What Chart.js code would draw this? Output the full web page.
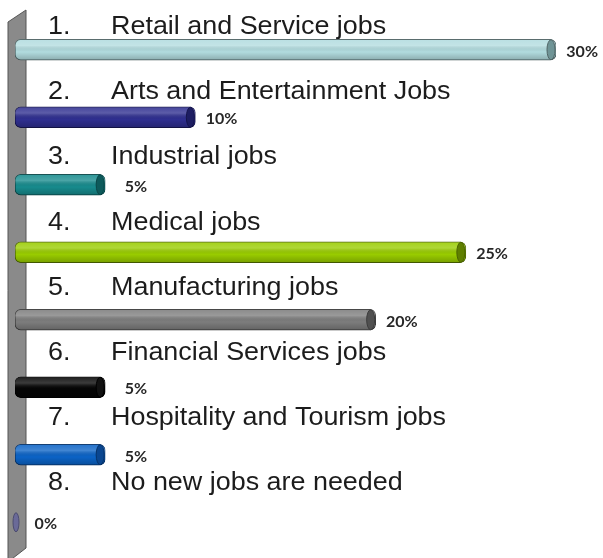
<!DOCTYPE html>
<html>
<head>
<meta charset="utf-8">
<script src="https://cdn.jsdelivr.net/npm/chart.js@4.4.1/dist/chart.umd.min.js"></script>
<style>
  html, body { margin: 0; padding: 0; background: #ffffff; }
  canvas { display: block; }
</style>
</head>
<body>
<canvas id="chart" width="603" height="558"></canvas>
<script>
// Survey answers: which kinds of new jobs are needed
const ranks = ["1.", "2.", "3.", "4.", "5.", "6.", "7.", "8."];
const categories = [
  "Retail and Service jobs",
  "Arts and Entertainment Jobs",
  "Industrial jobs",
  "Medical jobs",
  "Manufacturing jobs",
  "Financial Services jobs",
  "Hospitality and Tourism jobs",
  "No new jobs are needed"
];
const shares = [30, 10, 5, 25, 20, 5, 5, 0];
const valueLabels = ["30%", "10%", "5%", "25%", "20%", "5%", "5%", "0%"];

const bodyColors = ["#b2dcdf", "#2f2f90", "#178b8d", "#99cc00", "#7d7d7d", "#050505", "#0b63c6", "#8c8cb8"];
const edgeColors = ["#4f6465", "#15154d", "#0a4748", "#4a6300", "#3c3c3c", "#000000", "#06336a", "#4c4c70"];
const faceColors = ["#6f9496", "#1d1d62", "#0d5a5b", "#5f7f00", "#505050", "#111111", "#0a4690", "#6a6a98"];

// Thin grey side wall the bars grow out of
const wallPlugin = {
  id: "wall",
  beforeDatasetsDraw(chart) {
    const ctx = chart.ctx;
    ctx.save();
    ctx.beginPath();
    ctx.moveTo(8, 22);
    ctx.lineTo(26, 10);
    ctx.lineTo(26, 548);
    ctx.lineTo(8, 562);
    ctx.closePath();
    ctx.fillStyle = "#8a8a8a";
    ctx.fill();
    ctx.lineWidth = 1;
    ctx.strokeStyle = "#555555";
    ctx.stroke();
    ctx.restore();
  }
};

// Shading and the end face that give each bar its cylinder look
const cylinderPlugin = {
  id: "cylinder",
  afterDatasetsDraw(chart) {
    const ctx = chart.ctx;
    const meta = chart.getDatasetMeta(0);
    meta.data.forEach((bar, i) => {
      const p = bar.getProps(["x", "y", "base", "height"], true);
      const h = p.height, top = p.y - h / 2, rx = 4, ry = h / 2;
      ctx.save();
      if (p.x - p.base > 1) {
        // soft highlight on the upper half, shadow on the lower half
        ctx.beginPath();
        ctx.roundRect(p.base, top, p.x - p.base, h, 6);
        ctx.clip();
        const g = ctx.createLinearGradient(0, top, 0, top + h);
        g.addColorStop(0, "rgba(255,255,255,0.10)");
        g.addColorStop(0.3, "rgba(255,255,255,0.22)");
        g.addColorStop(0.6, "rgba(0,0,0,0)");
        g.addColorStop(1, "rgba(0,0,0,0.22)");
        ctx.fillStyle = g;
        ctx.fillRect(p.base, top, p.x - p.base, h);
        ctx.restore();
        ctx.save();
        ctx.beginPath();
        ctx.ellipse(p.x - rx - 1, p.y, rx, ry - 0.5, 0, 0, Math.PI * 2);
        ctx.fillStyle = faceColors[i];
        ctx.fill();
        ctx.lineWidth = 1;
        ctx.strokeStyle = edgeColors[i];
        ctx.stroke();
      } else {
        ctx.beginPath();
        ctx.ellipse(p.base + 1, p.y, 3, ry - 1, 0, 0, Math.PI * 2);
        ctx.fillStyle = faceColors[i];
        ctx.fill();
        ctx.lineWidth = 1;
        ctx.strokeStyle = edgeColors[i];
        ctx.stroke();
      }
      ctx.restore();
    });
  }
};

// Numbered answer text (its own evenly spaced text block) and the percentage beside each bar
const labelPlugin = {
  id: "answerLabels",
  afterDatasetsDraw(chart) {
    const ctx = chart.ctx;
    const meta = chart.getDatasetMeta(0);
    meta.data.forEach((bar, i) => {
      const p = bar.getProps(["x", "y"], true);
      const baseline = 34 + i * 65.2;
      ctx.save();
      ctx.fillStyle = "#1c1c1c";
      ctx.font = "26px 'Liberation Sans', Arial, sans-serif";
      ctx.textBaseline = "alphabetic";
      ctx.textAlign = "left";
      ctx.save();
      ctx.translate(48, baseline);
      ctx.scale(1.035, 1);
      ctx.fillText(ranks[i], 0, 0);
      ctx.restore();
      ctx.save();
      ctx.translate(111, baseline);
      ctx.scale(1.035, 1);
      ctx.fillText(categories[i], 0, 0);
      ctx.restore();
      ctx.fillStyle = "#272727";
      ctx.font = "bold 16px Lato, 'Liberation Sans', sans-serif";
      ctx.textAlign = "right";
      ctx.textBaseline = "alphabetic";
      ctx.fillText(valueLabels[i], p.x + 42, p.y + 7);
      ctx.restore();
    });
  }
};

new Chart(document.getElementById("chart"), {
  type: "bar",
  data: {
    labels: categories,
    datasets: [{
      data: shares,
      backgroundColor: bodyColors,
      borderColor: edgeColors,
      borderWidth: 1,
      borderSkipped: false,
      borderRadius: 6,
      barThickness: 21
    }]
  },
  options: {
    indexAxis: "y",
    responsive: false,
    devicePixelRatio: 1,
    animation: false,
    layout: { padding: { left: 15, right: 47, top: 16, bottom: 2 } },
    scales: {
      x: { display: false, min: 0, max: 30 },
      y: { display: false, offset: true }
    },
    plugins: {
      legend: { display: false },
      tooltip: { enabled: false }
    }
  },
  plugins: [wallPlugin, cylinderPlugin, labelPlugin]
});
</script>
</body>
</html>
